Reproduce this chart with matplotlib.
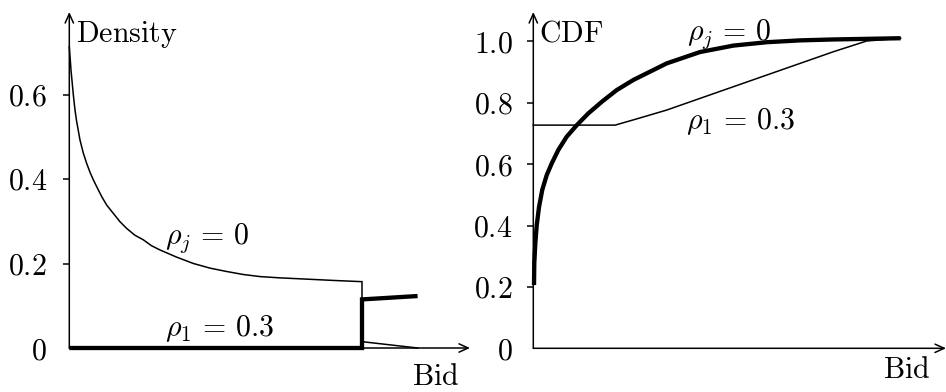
import matplotlib
matplotlib.use("Agg")
import matplotlib.pyplot as plt
from matplotlib.ticker import FixedLocator, FixedFormatter

plt.rcParams['mathtext.fontset'] = 'cm'
plt.rcParams['font.family'] = ['DejaVu Serif']

# ---- data: density panel ----
dens_rho_j_bid = [0.0, 0.0058, 0.0138, 0.0195, 0.0252, 0.0366, 0.048, 0.0593, 0.0707,
                  0.0821, 0.0935, 0.111, 0.128, 0.150, 0.173, 0.196, 0.224, 0.253,
                  0.281, 0.310, 0.367, 0.424, 0.481, 0.538, 0.594, 0.652, 0.72,
                  0.811, 0.90, 1.0, 1.0, 1.19]
dens_rho_j_val = [0.713, 0.658, 0.599, 0.563, 0.536, 0.492, 0.461, 0.437, 0.416,
                  0.398, 0.382, 0.358, 0.338, 0.319, 0.299, 0.283, 0.267, 0.256,
                  0.242, 0.232, 0.215, 0.200, 0.189, 0.181, 0.174, 0.169, 0.166,
                  0.163, 0.160, 0.157, 0.015, 0.0]
dens_rho_1_bid = [0.0, 1.0, 1.0, 1.19]
dens_rho_1_val = [0.0, 0.0, 0.115, 0.123]

# ---- data: CDF panel ----
cdf_rho_j_bid = [0.0023, 0.0032, 0.0065, 0.011, 0.0185, 0.029, 0.0434, 0.060, 0.081,
                 0.108, 0.141, 0.178, 0.222, 0.270, 0.324, 0.378, 0.432, 0.54,
                 0.648, 0.756, 0.864, 0.972, 1.08, 1.19]
cdf_rho_j_val = [0.206, 0.277, 0.341, 0.400, 0.460, 0.516, 0.564, 0.603, 0.646,
                 0.689, 0.727, 0.765, 0.803, 0.841, 0.874, 0.901, 0.928, 0.965,
                 0.986, 0.997, 1.003, 1.006, 1.008, 1.01]
cdf_rho_1_bid = [0.0, 0.265, 0.324, 0.432, 0.54, 0.648, 0.756, 0.864, 0.972, 1.08, 1.19]
cdf_rho_1_val = [0.727, 0.727, 0.744, 0.776, 0.814, 0.852, 0.890, 0.928, 0.966, 1.001, 1.01]

dens_ticks = [0, 0.2, 0.4, 0.6]
dens_ticklabels = ['0', '0.2', '0.4', '0.6']
cdf_ticks = [0, 0.2, 0.4, 0.6, 0.8, 1.0]
cdf_ticklabels = ['0', '0.2', '0.4', '0.6', '0.8', '1.0']

W, H = 946, 392
fig = plt.figure(figsize=(W / 100, H / 100), dpi=100)

FS = 21.5
THIN = 1.1
THICK = 3.1


def make_axes(x0, x1, ybot, ytop, xmax, ymax):
    ax = fig.add_axes([x0 / W, 1 - ybot / H, (x1 - x0) / W, (ybot - ytop) / H])
    ax.set_xlim(0, xmax)
    ax.set_ylim(0, ymax)
    for s in ax.spines.values():
        s.set_visible(False)
    ax.set_xticks([])
    arrow = dict(arrowstyle='->,head_length=0.55,head_width=0.25', lw=THIN,
                 color='black', shrinkA=0, shrinkB=0, mutation_scale=12)
    ax.annotate('', xy=(1, 0), xytext=(0, 0), xycoords='axes fraction',
                textcoords='axes fraction', arrowprops=arrow, annotation_clip=False)
    ax.annotate('', xy=(0, 1), xytext=(0, 0), xycoords='axes fraction',
                textcoords='axes fraction', arrowprops=arrow, annotation_clip=False)
    return ax


def set_yticks(ax, ticks, labels, pad):
    ax.yaxis.set_major_locator(FixedLocator(ticks))
    ax.yaxis.set_major_formatter(FixedFormatter(['$' + l + '$' for l in labels]))
    ax.tick_params(axis='y', direction='out', length=4.5, width=THIN, pad=pad,
                   labelsize=FS)
    ax.yaxis.get_major_ticks()[0].tick1line.set_visible(False)


# ---- left: density ----
axL = make_axes(69.3, 470, 348, 12, (470 - 69.3) / 292.7, (348 - 12) / 422.5)
set_yticks(axL, dens_ticks, dens_ticklabels, 11.5)
axL.plot(dens_rho_j_bid, dens_rho_j_val, color='black', lw=THIN,
         solid_joinstyle='miter', clip_on=False)
axL.plot(dens_rho_1_bid, dens_rho_1_val, color='black', lw=THICK,
         solid_joinstyle='miter', solid_capstyle='butt', clip_on=False)


def px_text(ax, px, py, s, x0, xs, y0, ys, ha='left'):
    ax.text((px - x0) / xs, (y0 - py) / ys, s, fontsize=FS, ha=ha, va='baseline')


px_text(axL, 76, 41.7, r'$\mathrm{Density}$', 69.3, 292.7, 348, 422.5)
px_text(axL, 435.5, 385, r'$\mathrm{Bid}$', 69.3, 292.7, 348, 422.5, ha='center')
px_text(axL, 165, 244, r'$\rho_j\,=\,0$', 69.3, 292.7, 348, 422.5)
px_text(axL, 165, 336.5, r'$\rho_1\,=\,0.3$', 69.3, 292.7, 348, 422.5)

# ---- right: CDF ----
axR = make_axes(533.3, 946, 348.3, 12, (946 - 533.3) / 308.7, (348.3 - 12) / 307)
set_yticks(axR, cdf_ticks, cdf_ticklabels, 10.5)
axR.plot(cdf_rho_1_bid, cdf_rho_1_val, color='black', lw=THIN, clip_on=False)
axR.plot(cdf_rho_j_bid, cdf_rho_j_val, color='black', lw=THICK,
         solid_capstyle='butt', clip_on=False)

px_text(axR, 539.3, 41.7, r'$\mathrm{CDF}$', 533.3, 308.7, 348.3, 307)
px_text(axR, 906.5, 378.5, r'$\mathrm{Bid}$', 533.3, 308.7, 348.3, 307, ha='center')
px_text(axR, 686.7, 40, r'$\rho_j\,=\,0$', 533.3, 308.7, 348.3, 307)
px_text(axR, 686, 129, r'$\rho_1\,=\,0.3$', 533.3, 308.7, 348.3, 307)

fig.savefig('out.png', dpi=100)
